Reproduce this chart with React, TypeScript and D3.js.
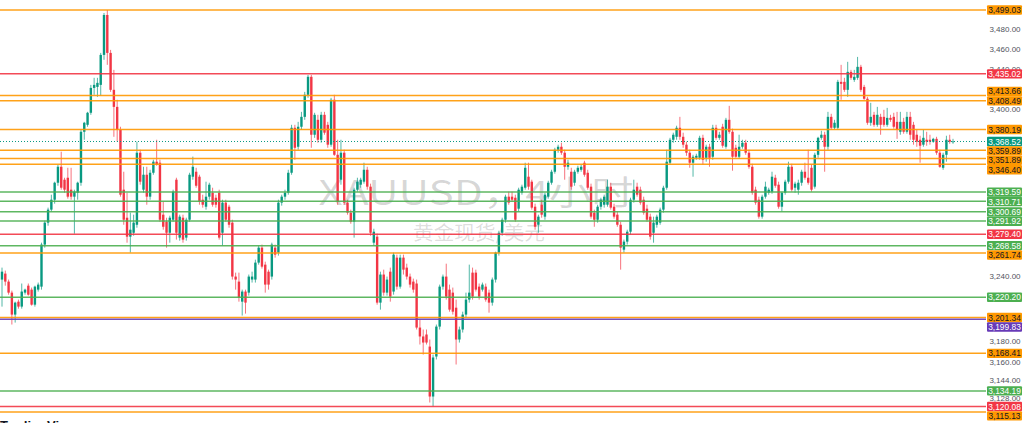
import React from "react";
import * as d3 from "d3";

// OHLC candles, 4h XAUUSD: [open, high, low, close]
const candlesA: number[][] = [
  [3236.7,3247.9,3211.5,3244.1],[3242.3,3245.1,3231.0,3234.8],[3234.8,3236.7,3222.6,3224.5],
  [3224.5,3226.4,3194.9,3204.1],[3204.1,3216.1,3196.7,3215.2],[3216.1,3218.0,3209.6,3211.5],
  [3211.5,3233.0,3209.6,3225.5],[3224.5,3228.2,3222.6,3227.3],[3231.0,3233.0,3221.7,3222.6],
  [3227.3,3229.2,3212.4,3213.3],[3213.3,3231.0,3211.5,3230.1],[3227.3,3233.9,3225.5,3232.0],
  [3230.1,3271.4,3227.3,3269.6],[3269.6,3292.3,3266.7,3290.4],[3290.4,3304.7,3287.5,3302.8],
  [3302.8,3317.1,3300.9,3312.3],[3312.3,3329.6,3308.5,3328.6],[3328.6,3345.9,3325.7,3344.0],
  [3344.0,3358.6,3321.9,3323.8],[3331.5,3333.4,3319.0,3321.9],[3333.4,3343.0,3313.3,3315.2],
  [3321.9,3343.0,3312.3,3315.2],[3315.2,3321.9,3279.9,3320.0],[3319.0,3329.6,3312.3,3328.6],
  [3328.6,3380.0,3325.7,3378.0],[3378.0,3387.7,3370.2,3386.8],[3384.8,3397.5,3382.9,3396.6],
  [3396.6,3424.1,3394.6,3421.1],[3421.1,3431.1,3414.3,3424.1],[3422.1,3431.1,3412.3,3426.1],
  [3424.1,3455.9,3413.3,3453.9],[3453.9,3496.0,3449.0,3494.0],[3494.0,3499.03,3444.0,3455.9],
  [3455.9,3458.9,3417.2,3419.2],[3419.2,3439.0,3373.1,3402.4],[3402.4,3409.4,3368.3,3380.0],
  [3380.0,3382.9,3315.2,3317.1],[3321.9,3339.2,3288.4,3293.2],[3295.1,3319.0,3271.4,3277.1],
  [3277.1,3300.0,3262.0,3283.7],[3280.8,3298.0,3278.0,3290.4],[3288.4,3368.3,3285.6,3357.6],
  [3357.6,3360.5,3326.7,3329.6],[3321.9,3344.0,3319.0,3336.3],[3336.3,3344.0,3307.5,3315.2],
  [3315.2,3341.1,3312.3,3338.2],[3338.2,3350.8,3336.3,3348.9],[3348.9,3370.2,3345.0,3345.9],
  [3347.9,3350.8,3291.3,3293.2],[3298.0,3310.4,3283.7,3286.5],[3291.3,3295.1,3266.7,3280.8],
  [3280.8,3297.0,3271.4,3295.1],[3293.2,3321.9,3291.3,3320.0],[3331.5,3333.4,3274.3,3280.8],
  [3276.2,3298.0,3273.3,3296.1],[3295.1,3298.0,3271.4,3274.3],[3276.2,3295.1,3273.3,3293.2],
  [3293.2,3338.2,3291.3,3336.3],[3334.4,3353.8,3331.5,3344.0],[3339.2,3343.0,3323.8,3325.7],
  [3334.4,3336.3,3307.5,3310.4],
];

const candlesB: number[][] = [
  [3312.3,3317.1,3304.7,3307.5],[3305.6,3329.6,3302.8,3315.2],[3315.2,3328.6,3312.3,3326.7],
  [3319.0,3323.8,3305.6,3307.5],[3314.2,3317.1,3304.7,3307.5],[3319.0,3321.9,3274.3,3276.2],
  [3280.8,3312.3,3268.6,3309.5],[3309.5,3312.3,3291.3,3293.2],[3305.6,3307.5,3285.6,3288.4],
  [3290.4,3293.2,3236.7,3239.5],[3239.5,3243.2,3227.3,3236.7],[3234.8,3243.2,3216.1,3219.9],
  [3216.1,3227.3,3203.2,3225.5],[3225.5,3227.3,3205.0,3215.2],[3224.5,3241.4,3221.7,3239.5],
  [3236.7,3244.1,3233.9,3239.5],[3236.7,3255.4,3233.9,3252.6],[3252.6,3268.6,3250.7,3266.7],
  [3266.7,3269.6,3247.0,3248.8],[3250.7,3253.5,3224.5,3232.0],[3244.1,3246.0,3227.3,3232.0],
  [3239.5,3271.4,3236.7,3269.6],[3266.7,3269.6,3257.3,3260.1],[3262.0,3312.3,3259.2,3309.5],
  [3309.5,3317.1,3306.6,3315.2],[3315.2,3321.9,3312.3,3319.0],[3319.0,3341.1,3317.1,3338.2],
  [3338.2,3384.8,3336.3,3381.9],[3381.9,3384.8,3350.8,3362.4],[3363.4,3387.7,3360.5,3382.9],
  [3382.9,3397.5,3380.0,3392.6],[3392.6,3417.2,3389.7,3414.3],[3414.3,3434.0,3411.3,3432.1],
  [3432.1,3434.0,3362.4,3375.1],[3375.1,3396.6,3372.1,3394.6],[3389.7,3394.6,3367.3,3370.2],
  [3370.2,3397.5,3367.3,3394.6],[3394.6,3397.5,3375.1,3377.1],[3384.8,3387.7,3362.4,3365.4],
  [3365.4,3411.3,3363.4,3409.4],[3409.4,3414.3,3354.6,3355.6],[3355.6,3370.2,3307.5,3310.4],
  [3331.5,3370.2,3326.7,3357.6],[3357.6,3360.5,3307.5,3309.5],[3309.5,3312.3,3298.0,3299.9],
  [3299.9,3302.8,3289.4,3291.3],[3291.3,3323.8,3276.2,3321.9],[3321.9,3333.4,3320.0,3329.6],
  [3326.7,3333.4,3323.8,3331.5],[3329.6,3347.9,3327.7,3341.1],[3341.1,3344.0,3321.9,3324.8],
  [3324.8,3327.7,3278.0,3280.8],[3271.4,3284.6,3268.6,3281.8],[3277.1,3280.0,3213.3,3215.2],
  [3215.2,3244.1,3208.7,3241.4],[3241.4,3246.0,3221.7,3224.5],[3224.5,3239.5,3221.7,3236.7],
  [3244.1,3247.9,3216.1,3220.8],[3225.5,3262.0,3222.6,3260.1],[3257.3,3260.1,3227.3,3230.1],
];

const candlesC: number[][] = [
  [3230.1,3260.1,3228.2,3257.3],[3257.3,3260.1,3241.4,3246.0],[3247.9,3251.6,3236.7,3239.5],
  [3239.5,3242.3,3229.2,3232.0],[3234.8,3237.6,3224.5,3227.3],[3233.0,3236.7,3190.3,3192.1],
  [3192.1,3199.5,3176.5,3183.9],[3183.9,3190.3,3167.3,3178.3],[3185.7,3190.3,3176.5,3178.3],
  [3174.6,3181.1,3123.7,3129.1],[3129.1,3167.3,3120.08,3164.6],[3165.5,3194.9,3162.8,3193.0],
  [3193.0,3232.0,3190.3,3230.1],[3230.1,3241.4,3227.3,3239.5],[3239.5,3251.6,3218.0,3220.8],
  [3227.3,3232.0,3206.8,3208.7],[3224.5,3229.2,3204.1,3206.8],[3210.5,3218.0,3158.2,3181.1],
  [3181.1,3193.0,3178.3,3190.3],[3190.3,3206.8,3187.5,3204.1],[3204.1,3224.5,3201.3,3218.0],
  [3218.0,3250.7,3215.2,3224.5],[3243.2,3247.9,3218.0,3220.8],[3243.2,3246.0,3225.5,3227.3],
  [3230.1,3233.0,3218.0,3220.8],[3227.3,3233.9,3225.5,3232.0],[3230.1,3233.0,3216.1,3218.0],
  [3224.5,3227.3,3205.9,3215.2],[3215.2,3238.6,3212.4,3236.7],[3236.7,3262.9,3233.9,3262.0],
  [3262.0,3282.7,3259.2,3280.8],[3280.8,3295.1,3278.0,3293.2],[3293.2,3317.1,3290.4,3315.2],
  [3315.2,3320.0,3307.5,3309.5],[3315.2,3320.0,3310.4,3312.3],[3314.2,3317.1,3291.3,3293.2],
  [3303.7,3323.8,3300.9,3321.9],[3319.0,3326.7,3317.1,3324.8],[3323.8,3347.9,3321.9,3343.0],
  [3334.4,3347.9,3321.9,3324.8],[3329.6,3331.5,3302.8,3304.7],[3305.6,3308.5,3283.7,3286.5],
  [3288.4,3298.0,3280.8,3296.1],[3307.5,3312.3,3295.1,3298.0],[3296.1,3319.0,3293.2,3317.1],
  [3315.2,3330.5,3313.3,3328.6],[3328.6,3341.1,3326.7,3339.2],[3339.2,3362.4,3337.3,3360.5],
  [3360.5,3365.4,3357.6,3363.4],[3363.4,3367.3,3355.6,3357.6],[3357.6,3360.5,3331.5,3344.0],
  [3344.0,3350.8,3341.1,3347.9],[3339.2,3343.0,3321.9,3324.8],[3328.6,3341.1,3325.7,3339.2],
  [3339.2,3345.0,3337.3,3343.0],[3341.1,3345.9,3339.2,3344.0],[3347.9,3349.8,3334.4,3336.3],
  [3338.2,3341.1,3321.9,3323.8],[3324.8,3327.7,3294.2,3296.1],[3299.9,3302.8,3286.5,3293.2],
  [3293.2,3307.5,3290.4,3305.6],
];

const candlesD: number[][] = [
  [3305.6,3314.2,3302.8,3312.3],[3307.5,3317.1,3304.7,3315.2],[3307.5,3331.5,3305.6,3324.8],
  [3324.8,3328.6,3302.8,3304.7],[3305.6,3308.5,3294.2,3296.1],[3298.0,3300.9,3286.5,3288.4],
  [3288.4,3291.3,3246.0,3266.7],[3264.8,3274.3,3262.0,3272.4],[3272.4,3283.7,3269.6,3281.8],
  [3281.8,3314.2,3279.0,3312.3],[3312.3,3331.5,3309.5,3321.9],[3324.8,3328.6,3315.2,3317.1],
  [3321.9,3324.8,3307.5,3309.5],[3312.3,3315.2,3298.0,3299.9],[3303.7,3307.5,3291.3,3293.2],
  [3296.1,3299.0,3274.3,3277.1],[3280.8,3296.1,3271.4,3290.4],[3288.4,3298.0,3285.6,3296.1],
  [3290.4,3304.7,3288.4,3302.8],[3302.8,3325.7,3299.9,3323.8],[3323.8,3360.5,3321.9,3348.9],
  [3347.9,3372.1,3345.9,3370.2],[3370.2,3377.1,3367.3,3375.1],[3373.1,3383.9,3370.2,3381.9],
  [3381.9,3392.6,3370.2,3373.1],[3373.1,3377.1,3362.4,3365.4],[3365.4,3368.3,3354.6,3357.6],
  [3357.6,3360.5,3343.0,3347.9],[3347.9,3355.6,3334.4,3353.7],[3352.7,3356.6,3350.8,3354.6],
  [3352.7,3374.1,3350.8,3372.1],[3372.1,3375.1,3345.9,3350.8],[3352.7,3365.4,3348.9,3363.4],
  [3363.4,3366.3,3344.0,3352.7],[3353.7,3384.8,3350.8,3381.9],[3381.9,3384.8,3370.2,3372.1],
  [3372.1,3378.0,3370.2,3375.1],[3382.9,3385.8,3362.4,3364.4],[3363.4,3391.6,3361.5,3389.7],
  [3389.7,3403.4,3376.1,3378.0],[3378.0,3381.0,3340.2,3353.7],[3362.4,3365.4,3352.7,3353.7],
  [3353.7,3375.1,3351.8,3363.4],[3363.4,3370.2,3361.5,3367.3],[3367.3,3370.2,3355.6,3357.6],
  [3357.6,3360.5,3342.1,3344.0],[3344.0,3346.9,3317.1,3319.0],[3321.9,3324.8,3307.5,3309.5],
  [3312.3,3315.2,3294.2,3296.1],[3296.1,3317.1,3294.2,3315.2],[3315.2,3329.6,3313.3,3324.8],
  [3319.0,3323.8,3317.1,3321.9],[3320.0,3339.2,3318.0,3334.4],[3333.4,3336.3,3323.8,3325.7],
  [3326.7,3329.6,3303.7,3305.6],[3305.6,3320.0,3300.9,3319.0],
];

const candlesE: number[][] = [
  [3319.0,3331.5,3317.1,3329.6],[3329.6,3348.9,3327.7,3344.0],[3344.0,3346.9,3320.0,3321.9],
  [3323.8,3329.6,3319.0,3327.7],[3321.9,3331.5,3317.1,3328.6],[3328.6,3341.1,3325.7,3339.2],
  [3339.2,3347.9,3331.5,3333.4],[3333.4,3360.5,3326.7,3328.6],[3343.0,3346.0,3320.0,3321.9],
  [3324.8,3357.6,3322.9,3355.6],[3355.6,3373.1,3352.7,3372.1],[3372.1,3379.0,3370.2,3375.1],
  [3375.1,3378.0,3339.2,3363.4],[3363.4,3397.5,3360.5,3392.6],[3392.6,3395.6,3380.0,3381.9],
  [3381.9,3389.7,3380.0,3386.8],[3381.9,3429.1,3380.0,3427.1],[3427.1,3444.0,3409.4,3425.1],
  [3427.1,3431.1,3417.2,3419.2],[3419.2,3447.0,3412.3,3437.0],[3437.0,3439.0,3429.1,3431.1],
  [3429.1,3439.0,3427.1,3432.1],[3431.1,3451.9,3429.1,3442.0],[3442.0,3444.0,3417.2,3419.2],
  [3422.1,3424.1,3409.4,3410.4],[3410.4,3412.3,3384.8,3386.8],[3386.8,3406.4,3383.9,3392.6],
  [3394.6,3397.5,3382.9,3384.8],[3384.8,3402.4,3382.9,3394.6],[3392.6,3395.6,3375.1,3384.8],
  [3392.6,3399.5,3382.9,3384.8],[3384.8,3401.4,3382.9,3391.6],[3391.6,3394.6,3387.7,3389.7],
  [3392.6,3396.6,3381.0,3382.9],[3387.7,3397.5,3371.1,3380.0],[3378.0,3397.5,3375.1,3387.7],
  [3387.7,3391.6,3376.1,3378.0],[3378.0,3397.5,3376.1,3392.6],[3392.6,3397.5,3370.2,3375.1],
  [3384.8,3387.7,3365.4,3370.2],[3375.1,3380.0,3363.4,3368.3],[3370.2,3374.1,3347.9,3364.4],
  [3365.4,3380.0,3363.4,3372.1],[3370.2,3378.0,3364.4,3368.3],[3370.2,3375.1,3365.4,3368.3],
  [3368.3,3372.1,3367.3,3371.1],[3371.1,3373.1,3355.6,3357.6],[3357.6,3360.5,3343.0,3344.0],
  [3343.0,3357.6,3341.1,3355.6],[3355.6,3374.1,3348.9,3370.2],[3370.2,3375.1,3366.3,3368.3],
  [3368.3,3371.1,3366.3,3368.52],
];

const candles = [...candlesA, ...candlesB, ...candlesC, ...candlesD, ...candlesE];

// Horizontal support / resistance levels and their colour kinds
const levelPrices = [3499.03, 3435.02, 3413.66, 3408.49, 3380.19, 3359.89, 3351.89, 3346.40,
  3319.59, 3310.71, 3300.69, 3291.92, 3279.40, 3268.58, 3261.74, 3220.20, 3201.34, 3199.83,
  3168.41, 3134.19, 3120.08, 3115.13];
const levelKinds = ["o", "r", "o", "o", "o", "o", "o", "o", "g", "g", "g", "g", "r", "g", "o",
  "g", "o", "p", "o", "g", "r", "o"];
const lastPrice = 3368.52;
const axisTicks = [3480, 3460, 3440, 3400, 3240, 3180, 3160, 3144, 3128];
const watermarkTitle = "XAUUSD，4小时";
const watermarkSub = "黄金现货/美元";
const brand = "TradingView";

const KIND_FILL: Record<string, string> = {
  o: "#ff9800", r: "#f23645", g: "#4caf50", p: "#673ab7", t: "#089981",
};
const KIND_TEXT: Record<string, string> = {
  o: "#131722", r: "#ffffff", g: "#ffffff", p: "#ffffff", t: "#ffffff",
};
const LABEL_NUDGE: Record<string, number> = { "3413.66": -4 };

export default function App() {
  const W = 1024, H = 423, paneRight = 986;
  const UP = "#089981", DOWN = "#f23645";
  const x = d3.scaleLinear().domain([0, candles.length - 1]).range([2, 953]);
  const y = d3.scaleLog().domain([3115.13, 3499.03]).range([412, 10]);
  const fmt = d3.format(",.2f");
  const font = "'Liberation Sans', Arial, sans-serif";

  const labelH = 9.4;
  const raw = levelPrices.map((p, i) => ({ p, kind: levelKinds[i] }));
  raw.push({ p: lastPrice, kind: "t" });
  raw.sort((a, b) => y(a.p) - y(b.p));
  let prevC = -Infinity;
  const labels = raw.map((l) => {
    let c = y(l.p) + (LABEL_NUDGE[l.p.toFixed(2)] || 0);
    c = Math.max(c, prevC + labelH);
    prevC = c;
    return { ...l, c };
  });

  const bw = 2.4;

  return (
    <svg width={W} height={H} viewBox={`0 0 ${W} ${H}`}
      style={{ position: "absolute", left: 0, top: 0, display: "block", background: "#fff" }}>
      <rect x={0} y={0} width={W} height={H} fill="#ffffff" />
      {/* watermark */}
      <text x={476} y={205} textAnchor="middle" fontSize={34} textLength={315}
        lengthAdjust="spacingAndGlyphs" fill="#000" fillOpacity={0.16}
        fontFamily="'Noto Sans CJK SC', 'Noto Sans', sans-serif">{watermarkTitle}</text>
      <text x={479} y={240} textAnchor="middle" fontSize={19} textLength={132}
        lengthAdjust="spacingAndGlyphs" fill="#000" fillOpacity={0.15}
        fontFamily="'Noto Sans CJK SC', sans-serif">{watermarkSub}</text>

      {/* candles */}
      <g>
        {candles.map((d, i) => {
          const [o, h, l, c] = d;
          const col = c >= o ? UP : DOWN;
          const cx = x(i);
          const top = y(Math.max(o, c));
          const bot = y(Math.min(o, c));
          return (
            <g key={i}>
              <line x1={cx} x2={cx} y1={y(h)} y2={y(l)} stroke={col} strokeWidth={1} strokeOpacity={0.7} />
              <rect x={cx - bw / 2} y={top} width={bw} height={Math.max(0.8, bot - top)} fill={col} />
            </g>
          );
        })}
      </g>

      {/* level lines */}
      <g>
        {levelPrices.map((p, i) => (
          <line key={p} x1={0} x2={paneRight} y1={y(p)} y2={y(p)}
            stroke={KIND_FILL[levelKinds[i]]} strokeWidth={1.5} strokeOpacity={0.9} />
        ))}
        <line x1={0} x2={paneRight} y1={y(lastPrice)} y2={y(lastPrice)}
          stroke={UP} strokeWidth={1} strokeDasharray="1 2" />
      </g>

      {/* axis ticks */}
      <g fontFamily={font} fontSize={8} fill="#50535e">
        {axisTicks.map((t) => (
          <text key={t} x={1005} y={y(t)} dy="0.35em" textAnchor="middle">{fmt(t)}</text>
        ))}
      </g>

      {/* price labels */}
      <g fontFamily={font} fontSize={8.4}>
        {labels.map((l) => (
          <g key={l.p + l.kind}>
            <rect x={987} y={l.c - labelH / 2} width={35} height={labelH} rx={1}
              fill={KIND_FILL[l.kind]} />
            <text x={1004.5} y={l.c} dy="0.36em" textAnchor="middle"
              fill={KIND_TEXT[l.kind]}>{fmt(l.p)}</text>
          </g>
        ))}
      </g>

      <text x={0} y={430} fontFamily={font} fontSize={13} fontWeight="bold" fill="#131722">{brand}</text>
    </svg>
  );
}
